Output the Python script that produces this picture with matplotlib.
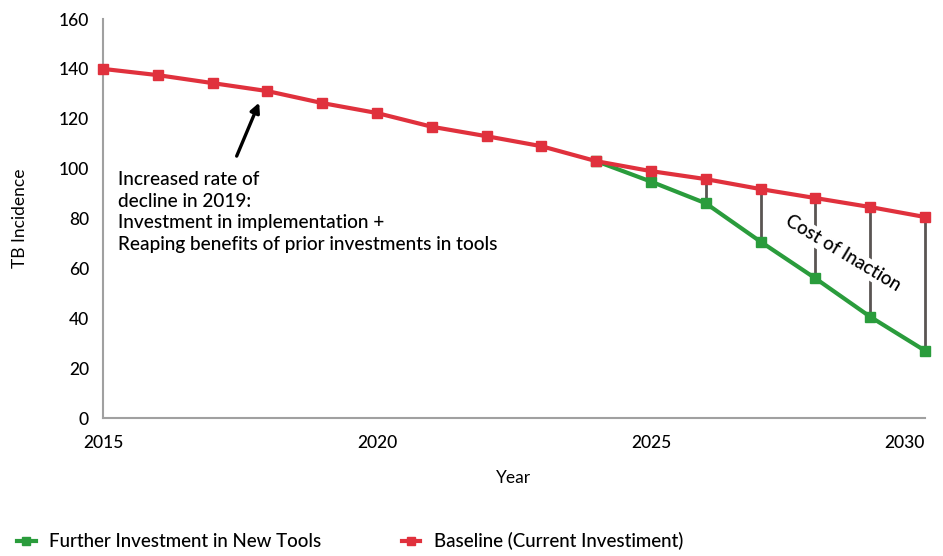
import matplotlib
matplotlib.use("Agg")
import matplotlib.pyplot as plt

years = list(range(2015, 2031))
baseline = [140, 137.5, 134.3, 131.1, 126.3, 122.3, 116.8, 113, 109, 103,
            99, 95.8, 91.8, 88.2, 84.6, 80.6]
new_tools_years = list(range(2024, 2031))
new_tools = [103, 94.8, 86.1, 70.7, 56, 40.6, 27]
gap_years = [2026, 2027, 2028, 2029, 2030]

RED = "#e0313d"
GREEN = "#2a9c3c"

plt.rcParams["font.family"] = ["Lato", "DejaVu Sans"]
plt.rcParams["font.weight"] = "medium"

fig = plt.figure(figsize=(9.43, 5.56), dpi=100)
ax = fig.add_axes([0.1092, 0.2482, 0.8717, 0.7176])

# cost-of-inaction connectors
for yr in gap_years:
    b = baseline[years.index(yr)]
    g = new_tools[new_tools_years.index(yr)]
    ax.plot([yr, yr], [g, b], color="#5a5553", lw=2, zorder=1, clip_on=False)

ax.plot(years, baseline, color=RED, lw=3, marker="s", ms=6.5,
        label="Baseline (Current Investiment)", zorder=3, clip_on=False)
ax.plot(new_tools_years, new_tools, color=GREEN, lw=3, marker="s", ms=6.5,
        label="Further Investment in New Tools", zorder=2, clip_on=False)

ax.text(2028.5, 66, "Cost of Inaction", rotation=-31, fontsize=13.5,
        ha="center", va="center", zorder=2,
        bbox=dict(facecolor="white", edgecolor="none", pad=1))

ax.annotate("", xy=(2017.87, 127.5), xytext=(2017.42, 104),
            arrowprops=dict(arrowstyle="-|>", color="black", lw=2.4,
                            mutation_scale=14))
ax.text(2015.27, 99, "Increased rate of\ndecline in 2019:\nInvestment in implementation +\n"
        "Reaping benefits of prior investments in tools",
        fontsize=13.7, va="top", ha="left", linespacing=1.32)

ax.set_xlim(2015, 2030)
ax.set_ylim(0, 160)
ax.set_xticks([2015, 2020, 2025, 2030])
ax.set_yticks(range(0, 161, 20))
ax.tick_params(length=0, labelsize=12.5, pad=10)
ax.tick_params(axis="x", pad=12)
xlabels = ax.get_xticklabels()
xlabels[-1].set_horizontalalignment("right")
xlabels[-1].set_x(2030.1)
for s in ["top", "right"]:
    ax.spines[s].set_visible(False)
ax.spines["left"].set_color("#a0a0a0")
ax.spines["bottom"].set_color("#a0a0a0")
ax.spines["left"].set_linewidth(1.5)
ax.spines["bottom"].set_linewidth(1.5)

ax.set_xlabel("Year", fontsize=12.5, labelpad=14)
ax.set_ylabel("TB Incidence", fontsize=12.5, labelpad=22)

handles, labels = ax.get_legend_handles_labels()
fig.legend(handles[::-1], labels[::-1], loc="lower left",
           bbox_to_anchor=(0.0, -0.02), ncol=2, frameon=False, fontsize=13.5,
           handlelength=1.0, handletextpad=0.7, columnspacing=4.3,
           markerscale=0.9)

fig.savefig("out.png", dpi=100)
